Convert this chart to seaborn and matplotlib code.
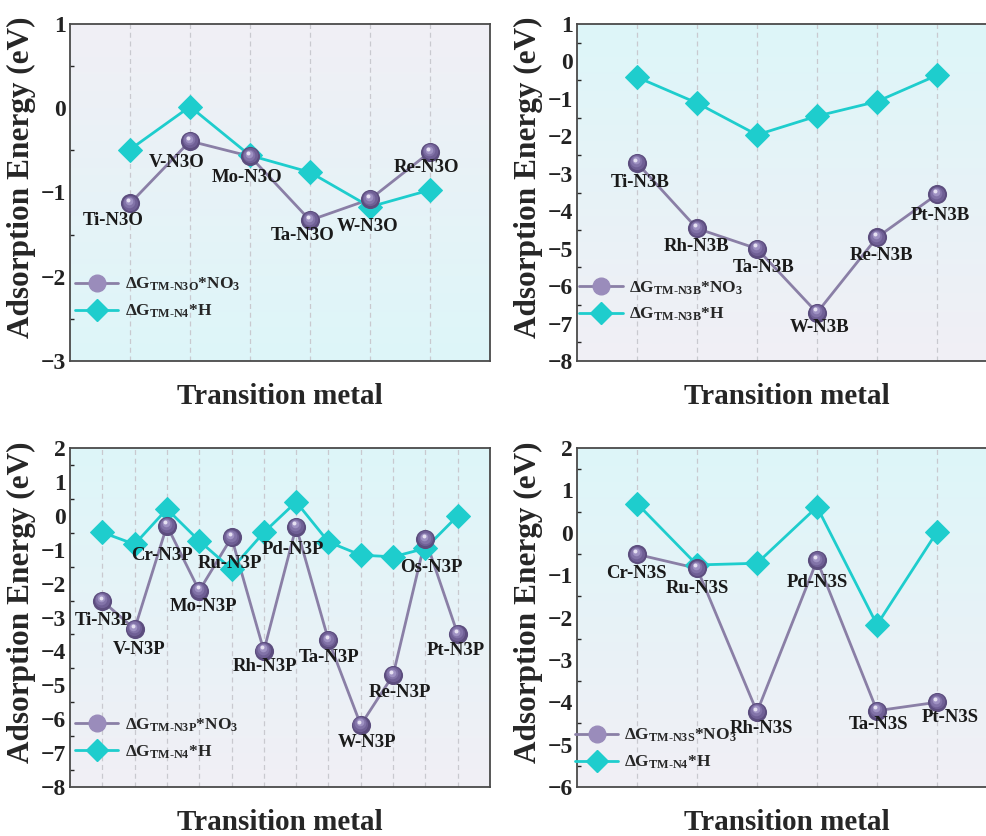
import numpy as np
import seaborn as sns
import matplotlib
matplotlib.use("Agg")
import matplotlib.pyplot as plt
from matplotlib.lines import Line2D
import matplotlib.transforms as mtransforms

sns.set_style("white")
plt.rcParams["font.family"] = ["Liberation Serif", "DejaVu Serif"]
plt.rcParams["font.weight"] = "bold"
plt.rcParams["mathtext.fontset"] = "custom"
plt.rcParams["mathtext.rm"] = "Liberation Serif:bold"
plt.rcParams["mathtext.bf"] = "Liberation Serif:bold"
plt.rcParams["mathtext.it"] = "Liberation Serif:bold"

# ---- data -------------------------------------------------------------
n3o_sites = ["Ti-N3O", "V-N3O", "Mo-N3O", "Ta-N3O", "W-N3O", "Re-N3O"]
n3o_no3 = [-1.13, -0.39, -0.57, -1.33, -1.08, -0.52]
n3o_h = [-0.49, 0.02, -0.56, -0.76, -1.17, -0.97]

n3b_sites = ["Ti-N3B", "Rh-N3B", "Ta-N3B", "W-N3B", "Re-N3B", "Pt-N3B"]
n3b_no3 = [-2.71, -4.46, -5.00, -6.71, -4.70, -3.55]
n3b_h = [-0.42, -1.11, -1.96, -1.46, -1.07, -0.37]

n3p_sites = ["Ti-N3P", "V-N3P", "Cr-N3P", "Mo-N3P", "Ru-N3P", "Rh-N3P",
             "Pd-N3P", "Ta-N3P", "W-N3P", "Re-N3P", "Os-N3P", "Pt-N3P"]
n3p_no3 = [-2.51, -3.34, -0.29, -2.21, -0.64, -3.98,
           -0.32, -3.67, -6.17, -4.70, -0.69, -3.49]
n3p_h = [-0.49, -0.84, 0.20, -0.74, -1.57, -0.49,
         0.41, -0.77, -1.16, -1.21, -0.96, 0.00]

n3s_sites = ["Cr-N3S", "Ru-N3S", "Rh-N3S", "Pd-N3S", "Ta-N3S", "Pt-N3S"]
n3s_no3 = [-0.51, -0.84, -4.23, -0.65, -4.20, -4.00]
n3s_h = [0.69, -0.76, -0.72, 0.61, -2.17, 0.02]

# label offsets (pixels) relative to each NO3 point
n3o_off = [(-17, -17), (-13, -21), (-3, -21), (-7, -15), (-2, -27), (-4, -15)]
n3b_off = [(3, -20), (0, -18), (7, -19), (3, -15), (4, -18), (3, -21)]
n3p_off = [(1, -20), (4, -20), (-5, -30), (4, -16), (-2, -26), (1, -16),
           (-3, -23), (1, -17), (6, -18), (7, -17), (6, -28), (-2, -16)]
n3s_off = [(-1, -19), (0, -20), (4, -17), (0, -22), (2, -14), (13, -15)]

PURPLE_LINE = "#8a7fa6"
PURPLE_DARK = "#5c4d7e"
PURPLE_LEG = "#9a8cbb"
CYAN = "#1ecdcd"
LAVENDER_BG = "#f1eff5"
CYAN_BG = "#ddf6f9"

W, H = 987, 836
fig = plt.figure(figsize=(W / 100, H / 100), dpi=100)


def px_axes(left, top, right, bottom):
    return fig.add_axes([left / W, 1 - bottom / H, (right - left) / W, (bottom - top) / H])


def gradient_bg(ax, top_color, bottom_color):
    c1 = np.array(matplotlib.colors.to_rgb(top_color))
    c2 = np.array(matplotlib.colors.to_rgb(bottom_color))
    t = np.linspace(0, 1, 256)[:, None]
    img = (c1[None, :] * (1 - t) + c2[None, :] * t)[:, None, :]
    ax.imshow(img, extent=[0, 1, 0, 1], transform=ax.transAxes,
              aspect="auto", zorder=-10, interpolation="bicubic")


def spheres(ax, x, y):
    # shaded ball markers: dark base, lighter layers shifted towards the light
    ax.scatter(x, y, s=190, color=PURPLE_DARK, zorder=5, linewidths=0)
    layers = [(120, "#6f5f95", 0.6), (70, "#8273a8", 1.2), (30, "#9f92c3", 1.8), (8, "#e6e1f2", 2.4)]
    for s, c, d in layers:
        tr = mtransforms.offset_copy(ax.transData, fig=fig, x=-d * 0.5, y=d, units="points")
        ax.scatter(x, y, s=s, color=c, zorder=6, linewidths=0, transform=tr)


def panel(ax, sites, no3, h, offsets, ylim, yticks, top_bg, bottom_bg,
          leg_no3, leg_h, leg_anchor):
    x = np.arange(len(sites))
    gradient_bg(ax, top_bg, bottom_bg)
    for xi in x:
        ax.axvline(xi, color="#c9c9cf", lw=0.9, ls=(0, (4, 3)), zorder=0)
    sns.lineplot(x=x, y=no3, ax=ax, color=PURPLE_LINE, lw=2.0, zorder=3,
                 sort=False, legend=False)
    spheres(ax, x, no3)
    sns.lineplot(x=x, y=h, ax=ax, color=CYAN, lw=2.0, marker="D",
                 markersize=12, markeredgecolor=CYAN, zorder=4, sort=False, legend=False)
    for xi, yi, name, (dx, dy) in zip(x, no3, sites, offsets):
        ax.annotate(name, (xi, yi), xytext=(dx, dy), textcoords="offset pixels",
                    ha="center", va="center", fontsize=13.5, fontweight="bold",
                    color="#1a1a1a", zorder=7)
    ax.set_xlim(-1, len(sites))
    ax.set_ylim(*ylim)
    ax.set_yticks(yticks)
    ax.set_yticklabels([f"{v:d}".replace("-", "\u2212") for v in yticks])
    ax.set_yticks(np.arange(ylim[0] + 0.5, ylim[1], 1.0), minor=True)
    ax.set_xticks([])
    ax.tick_params(axis="y", which="major", direction="in", length=5, width=1.2,
                   labelsize=17, pad=3, colors="#222222")
    ax.tick_params(axis="y", which="minor", direction="in", length=3, width=1.0, left=True)
    for lab in ax.get_yticklabels():
        lab.set_fontweight("bold")
    for sp in ax.spines.values():
        sp.set_color("#4a4a4a")
        sp.set_linewidth(1.3)
    ax.set_ylabel("Adsorption Energy (eV)", fontsize=22.5, fontweight="bold")
    ax.yaxis.set_label_coords(-0.082, 0.546)
    ax.set_xlabel("Transition metal", fontsize=21, fontweight="bold", labelpad=16)
    handles = [
        Line2D([], [], color=PURPLE_LINE, lw=2.0, marker="o", markersize=12,
               markerfacecolor=PURPLE_LEG, markeredgecolor=PURPLE_LEG),
        Line2D([], [], color=CYAN, lw=2.0, marker="D", markersize=11,
               markerfacecolor=CYAN, markeredgecolor=CYAN),
    ]
    ax.legend(handles, [leg_no3, leg_h], loc="upper left", bbox_to_anchor=leg_anchor,
              frameon=False, fontsize=12.5, handlelength=2.5, handletextpad=0.35,
              borderpad=0, borderaxespad=0, labelspacing=0.55)


def sub(s):
    return r"$\Delta$G$_{\mathrm{" + s.replace("-", r"\text{-}") + "}}$"


ax1 = px_axes(70, 24, 490, 361)
panel(ax1, n3o_sites, n3o_no3, n3o_h, n3o_off, (-3, 1), [-3, -2, -1, 0, 1],
      LAVENDER_BG, CYAN_BG, sub("TM-N3O") + r"*NO$_3$", sub("TM-N4") + "*H", (0.012, 0.252))

ax2 = px_axes(577, 24, 997, 361)
panel(ax2, n3b_sites, n3b_no3, n3b_h, n3b_off, (-8, 1), list(range(-8, 2)),
      CYAN_BG, LAVENDER_BG, sub("TM-N3B") + r"*NO$_3$", sub("TM-N3B") + "*H", (0.005, 0.243))

ax3 = px_axes(70, 448, 490, 787)
panel(ax3, n3p_sites, n3p_no3, n3p_h, n3p_off, (-8, 2), list(range(-8, 3)),
      CYAN_BG, LAVENDER_BG, sub("TM-N3P") + r"*NO$_3$", sub("TM-N4") + "*H", (0.012, 0.208))

ax4 = px_axes(577, 448, 997, 787)
panel(ax4, n3s_sites, n3s_no3, n3s_h, n3s_off, (-6, 2), list(range(-6, 3)),
      CYAN_BG, LAVENDER_BG, sub("TM-N3S") + r"*NO$_3$", sub("TM-N4") + "*H", (-0.005, 0.178))

fig.savefig("out.png", dpi=100)
